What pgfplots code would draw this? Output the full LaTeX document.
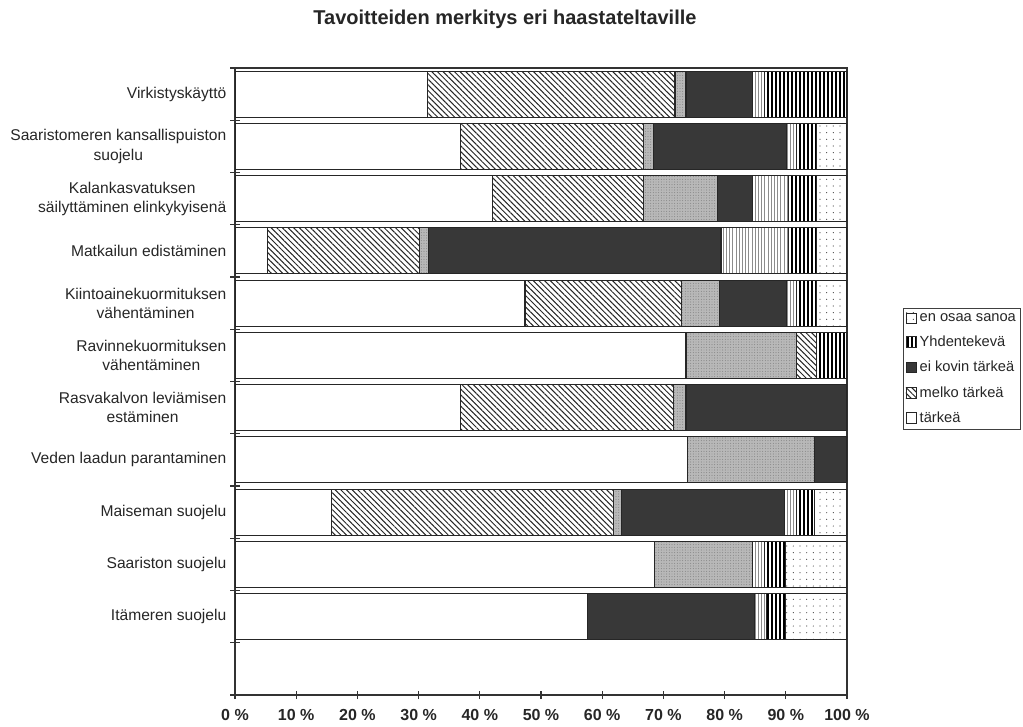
\documentclass[border=0pt]{standalone}
\usepackage{fontspec}
\setmainfont{Liberation Sans}
\usepackage{pgfplots}
\usepackage{pgfplotstable}
\pgfplotsset{compat=1.18}
\usetikzlibrary{patterns,patterns.meta}

% segment widths (%) for each goal, top to bottom
\pgfplotstableread{
y  tarkea melko stip hatchb eikovin lvert yhd eos
1  31.4  40.5  1.8  0    10.8  2.0  13.5  0
2  36.8  30.0  1.6  0    21.7  1.7  3.2   5.0
3  42.1  24.7  12.1 0    5.6   6.0  4.5   5.0
4  5.3   24.8  1.5  0    47.8  11.1 4.5   5.0
5  47.4  25.6  6.1  0    11.0  1.7  3.2   5.0
6  73.7  0     18.1 3.2  0     0    5.0   0
7  36.8  34.9  2.0  0    26.3  0    0     0
8  74.0  0     20.7 0    5.3   0    0     0
9  15.8  46.0  1.4  0    26.6  2.0  2.9   5.3
10 68.6  0     15.9 0    0     2.0  3.5   10.0
11 57.6  0     0    0    27.3  1.9  3.2   10.0
}\goals

\pgfplotsset{
  seg/.style={draw=black!85, line width=0.9pt},
  s-tarkea/.style={seg, fill=white},
  s-melko/.style={seg, pattern={Lines[angle=-45,distance=3pt,line width=0.75pt]}, pattern color=black!85},
  s-stip/.style={seg, fill=black!28, postaction={pattern={Dots[distance=2pt,radius=0.35pt]}, pattern color=black!55}},
  s-eikovin/.style={seg, fill=black!78},
  s-lvert/.style={seg, pattern={Lines[angle=90,distance=2.4pt,line width=0.5pt]}, pattern color=black!45},
  s-yhd/.style={seg, pattern={Lines[angle=90,distance=3pt,line width=1pt]}, pattern color=black},
  s-eos/.style={seg, pattern={Dots[distance=5pt,radius=0.45pt]}, pattern color=black!70},
}

\begin{document}
\begin{tikzpicture}[x=1pt,y=1pt]
\useasboundingbox (0,0) rectangle (767.25,544.5);
\node[font=\fontsize{15}{17}\selectfont\bfseries, text=black!85] at (378.75,530)
  {Tavoitteiden merkitys eri haastateltaville};
\begin{axis}[
  at={(176.25pt,23.25pt)}, anchor=south west,
  scale only axis, width=459pt, height=470.25pt,
  xbar stacked, bar width=0.88,
  y dir=reverse,
  xmin=0, xmax=100, ymin=0.5, ymax=12.5,
  axis line style={draw=black!80, line width=1.2pt},
  xtick={0,10,...,100},
  xticklabels={0 \%,10 \%,20 \%,30 \%,40 \%,50 \%,60 \%,70 \%,80 \%,90 \%,100 \%},
  xticklabel style={font=\fontsize{12}{14}\selectfont\bfseries, text=black!85, yshift=-4pt},
  xtick pos=left, tick align=center, major tick length=6pt,
  tick style={draw=black!80, line width=0.9pt},
  ytick={1,...,11},
  yticklabels={Virkistyskäyttö,
    {Saaristomeren kansallispuiston\\suojelu},
    {Kalankasvatuksen\\säilyttäminen elinkykyisenä},
    Matkailun edistäminen,
    {Kiintoainekuormituksen\\vähentäminen},
    {Ravinnekuormituksen\\vähentäminen},
    {Rasvakalvon leviämisen\\estäminen},
    Veden laadun parantaminen,
    Maiseman suojelu,
    Saariston suojelu,
    Itämeren suojelu},
  yticklabel style={font=\fontsize{11.7}{14.5}\selectfont, text=black!85, align=center},
  ytick pos=left,
  major y tick style={draw=none},
  minor ytick={0.5,1.5,...,12.5},
  minor y tick style={draw=black!80, line width=0.9pt},
  minor tick length=7pt,
  legend style={at={(1.0915,0.617)}, anchor=north west,
    draw=black!75, line width=0.8pt,
    font=\fontsize{11}{13}\selectfont, text=black!85,
    row sep=5.5pt, inner sep=1.5pt},
  legend cell align=left,
  reverse legend,
  legend image code/.code={\draw[#1, line width=0.6pt] (0pt,-4pt) rectangle (8pt,4pt);},
]
\addplot[s-tarkea] table[x=tarkea, y=y] {\goals};
\addlegendentry{tärkeä}
\addplot[s-melko] table[x=melko, y=y] {\goals};
\addlegendentry{melko tärkeä}
\addplot[s-stip, forget plot] table[x=stip, y=y] {\goals};
\addplot[s-melko, forget plot] table[x=hatchb, y=y] {\goals};
\addplot[s-eikovin] table[x=eikovin, y=y] {\goals};
\addlegendentry{ei kovin tärkeä}
\addplot[s-lvert, forget plot] table[x=lvert, y=y] {\goals};
\addplot[s-yhd] table[x=yhd, y=y] {\goals};
\addlegendentry{Yhdentekevä}
\addplot[s-eos] table[x=eos, y=y] {\goals};
\addlegendentry{en osaa sanoa}
\end{axis}
\end{tikzpicture}
\end{document}
